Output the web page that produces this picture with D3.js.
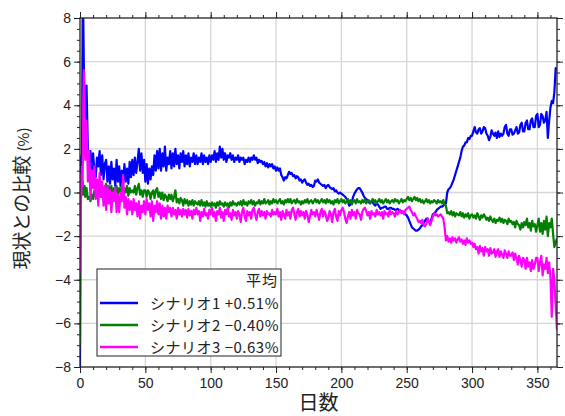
<!DOCTYPE html>
<html><head><meta charset="utf-8">
<script src="https://cdn.jsdelivr.net/npm/d3@7"></script>
<style>body{margin:0;background:#fff} svg{display:block}</style>
</head><body>
<svg id="c" width="565" height="416"></svg>
<script>
// ---- data ----
const startDays = [0,0.4,1,1.5,2,2.5,3,3.5,4,5,6,7,8,9];
const days = startDays.concat(d3.range(10, 366));

const seriesNames = ["シナリオ1", "シナリオ2", "シナリオ3"];
const seriesMeans = ["+0.51%", "\u22120.40%", "\u22120.63%"];
const legendTitle = "平均";

const scenario1 = [
 -8, 0.8, 1.7, 0.9, 7.9, 8.0, 5.5, 4.0, 2.3, 4.9, 2.0, 1.0, 1.9, 0.9,
 1.8, 1.0, 0.7, 1.6, 1.2, 1.9, 0.8, 1.7, 0.6, 1.3,
 1.5, 0.5, 1.2, 0.4, 1.4, 0.6, 1.1, 0.3, 1.5, 0.5,
 1.2, 0.3, 1.0, 0.4, 1.3, 0.5, 1.1, 0.4, 1.4, 0.7,
 1.5, 0.8, 1.6, 0.9, 1.4, 2.0, 1.0, 1.8, 0.9, 1.5,
 0.5, 1.3, 0.4, 1.1, 0.6, 1.2, 0.8, 1.7, 1.0, 1.9,
 1.1, 2.0, 1.0, 1.8, 1.2, 2.1, 1.0, 1.6, 1.3, 1.9,
 1.1, 1.8, 1.2, 2.0, 1.3, 1.7, 1.1, 1.8, 1.4, 1.9,
 1.2, 1.7, 1.3, 1.8, 1.2, 1.6, 1.4, 1.8, 1.3, 1.7,
 1.3, 1.6, 1.4, 1.8, 1.3, 1.7, 1.4, 1.6, 1.3, 1.7,
 1.4, 1.7, 1.5, 1.9, 1.4, 1.8, 1.5, 2.1, 1.6, 2.0,
 1.5, 1.8, 1.4, 1.7, 1.6, 1.8, 1.5, 1.7, 1.4, 1.6,
 1.5, 1.7, 1.4, 1.6, 1.5, 1.6, 1.3, 1.5, 1.4, 1.6,
 1.4, 1.6, 1.5, 1.7, 1.5, 1.6, 1.35, 1.5, 1.4, 1.45,
 1.3, 1.4, 1.2, 1.35, 1.15, 1.3, 1.2, 1.3, 1.1, 1.2,
 1.0, 1.15, 1.0, 1.1, 0.8, 0.7, 0.55, 0.7, 0.65, 0.8,
 0.95, 0.85, 0.9, 0.75, 0.8, 0.65, 0.75, 0.7, 0.55, 0.6,
 0.45, 0.55, 0.6, 0.45, 0.35, 0.4, 0.3, 0.35, 0.25, 0.3,
 0.55, 0.5, 0.6, 0.45, 0.4, 0.35, 0.3, 0.35, 0.2, 0.3,
 0.35, 0.25, 0.2, 0.15, 0.2, 0.05, 0.1, 0.0, -0.05, 0.0,
 -0.05, -0.1, -0.15, -0.2, -0.3, -0.4, -0.6, -0.55, -0.45, -0.2,
 -0.05, 0.05, 0.15, 0.2, 0.2, 0.1, 0.0, -0.15, -0.25, -0.3,
 -0.35, -0.45, -0.5, -0.4, -0.45, -0.55, -0.6, -0.5, -0.55, -0.65,
 -0.75, -0.7, -0.7, -0.65, -0.65, -0.75, -0.75, -0.7, -0.7, -0.75,
 -0.75, -0.8, -0.8, -0.75, -0.8, -0.85, -0.85, -0.9, -0.95, -1.0,
 -1.05, -1.15, -1.3, -1.45, -1.6, -1.65, -1.7, -1.75, -1.75, -1.7,
 -1.65, -1.55, -1.5, -1.4, -1.3, -1.2, -1.2, -1.35, -1.4, -1.2,
 -1.0, -0.95, -0.9, -0.8, -0.75, -0.7, -0.65, -0.65, -0.6, -0.55,
 -0.5, 0.0, 0.15, 0.2, 0.3, 0.45, 0.6, 0.8, 1.0, 1.2,
 1.4, 1.6, 1.9, 2.1, 2.15, 2.3, 2.3, 2.5, 2.45, 2.6,
 2.6, 2.8, 3.0, 2.75, 2.7, 2.9, 2.95, 2.7, 2.8, 3.0,
 2.95, 2.7, 2.6, 2.4, 2.55, 2.85, 2.7, 2.6, 2.75, 2.5,
 2.8, 2.55, 2.7, 2.6, 2.7, 3.0, 3.1, 2.7, 2.6, 2.9,
 2.9, 2.65, 2.7, 2.85, 3.0, 2.7, 2.75, 3.1, 3.2, 2.8,
 2.8, 3.2, 3.3, 2.9, 2.9, 3.3, 3.4, 3.0, 3.0, 3.5,
 3.6, 3.0, 3.1, 3.6, 3.5, 3.2, 3.3, 3.7, 2.5, 3.3,
 3.9, 4.2, 4.1, 4.6, 5.7, 5.6
];

const scenario2 = [
 -7, -0.2, 0.3, -0.1, 0.5, 0.2, -0.1, 0.3, -0.2, 0.2, -0.3, -0.2, -0.4, -0.1,
 -0.3, 0.1, -0.2, 0.2, -0.1, 0.3, -0.2, 0.2, -0.1, 0.1,
 0.4, 0.0, 0.3, -0.1, 0.3, -0.1, 0.2, 0.0, 0.3, -0.1,
 0.2, 0.0, 0.3, -0.1, 0.2, 0.0, 0.3, -0.15, 0.2, 0.0,
 0.1, 0.0, 0.3, -0.1, 0.2, 0.4, -0.1, 0.1, -0.2, 0.1,
 0.1, -0.2, 0.1, 0.0, -0.3, 0.0, 0.1, -0.25, 0.1, 0.2,
 -0.2, 0.0, -0.3, 0.0, -0.35, -0.1, -0.2, -0.4, -0.1, -0.3,
 -0.1, -0.4, -0.2, 0.1, -0.45, -0.3, -0.5, -0.25, -0.35, -0.6,
 -0.3, -0.5, -0.35, -0.6, -0.4, -0.55, -0.35, -0.6, -0.4, -0.5,
 -0.55, -0.4, -0.6, -0.35, -0.6, -0.45, -0.65, -0.4, -0.6, -0.5,
 -0.65, -0.45, -0.6, -0.5, -0.7, -0.45, -0.6, -0.4, -0.55, -0.5,
 -0.65, -0.45, -0.6, -0.5, -0.7, -0.45, -0.6, -0.4, -0.55, -0.5,
 -0.6, -0.45, -0.55, -0.4, -0.6, -0.35, -0.55, -0.45, -0.6, -0.4,
 -0.5, -0.35, -0.55, -0.4, -0.6, -0.45, -0.5, -0.35, -0.55, -0.4,
 -0.5, -0.3, -0.5, -0.45, -0.35, -0.55, -0.4, -0.5, -0.3, -0.45,
 -0.35, -0.5, -0.4, -0.3, -0.5, -0.4, -0.55, -0.35, -0.45, -0.3,
 -0.45, -0.3, -0.5, -0.4, -0.35, -0.5, -0.3, -0.45, -0.4, -0.55,
 -0.4, -0.5, -0.35, -0.45, -0.3, -0.5, -0.4, -0.35, -0.5, -0.4,
 -0.3, -0.45, -0.35, -0.5, -0.4, -0.3, -0.45, -0.35, -0.5, -0.3,
 -0.45, -0.35, -0.5, -0.4, -0.55, -0.35, -0.45, -0.3, -0.5, -0.4,
 -0.3, -0.45, -0.35, -0.5, -0.4, -0.3, -0.45, -0.35, -0.55, -0.4,
 -0.35, -0.5, -0.3, -0.45, -0.4, -0.5, -0.35, -0.45, -0.3, -0.5,
 -0.4, -0.35, -0.5, -0.4, -0.3, -0.45, -0.35, -0.5, -0.4, -0.3,
 -0.45, -0.35, -0.5, -0.4, -0.3, -0.45, -0.35, -0.5, -0.4, -0.35,
 -0.45, -0.3, -0.4, -0.35, -0.5, -0.4, -0.3, -0.45, -0.35, -0.4,
 -0.3, -0.2, -0.35, -0.25, -0.4, -0.3, -0.2, -0.35, -0.25, -0.4,
 -0.3, -0.45, -0.35, -0.5, -0.4, -0.3, -0.45, -0.35, -0.5, -0.4,
 -0.45, -0.35, -0.4, -0.5, -0.35, -0.45, -0.4, -0.5, -0.35, -0.55,
 -0.6, -0.95, -0.9, -1.0, -0.85, -1.05, -0.9, -1.1, -0.95, -1.0,
 -1.05, -0.9, -1.1, -0.95, -1.15, -1.0, -1.1, -0.95, -1.2, -1.05,
 -1.0, -1.15, -1.05, -1.2, -0.95, -1.1, -1.25, -1.05, -1.15, -1.0,
 -1.1, -1.25, -1.15, -1.3, -1.1, -1.25, -1.35, -1.2, -1.4, -1.25,
 -1.3, -1.15, -1.35, -1.2, -1.4, -1.25, -1.3, -1.45, -1.2, -1.35,
 -1.3, -1.45, -1.35, -1.6, -1.3, -1.45, -1.5, -1.7, -1.4, -1.6,
 -1.35, -1.5, -1.2, -1.6, -1.4, -1.75, -1.3, -1.55, -1.45, -1.8,
 -1.5, -1.2, -1.8, -1.4, -1.9, -1.3, -1.7, -1.1, -2.0, -1.4,
 -1.6, -1.2, -1.9, -2.5, -2.3, -2.1
];

const scenario3 = [
 -3.7, 0.8, -0.2, 1.2, 0.3, 4.0, 5.6, 3.0, 1.5, 3.3, 0.5, 1.9, -0.3, 1.0,
 0.2, 1.2, -0.3, 0.6, -0.6, 0.9, -0.2, 0.5, -0.6, 0.3,
 -0.8, 0.3, -0.5, 0.1, -0.9, 0.0, -0.4, 0.2, -0.9, -0.1,
 -0.9, 0.0, -0.4, 0.8, -0.7, -0.2, -1.0, -0.3, -0.8, -0.4,
 -1.0, -0.3, -0.8, -0.5, -1.1, -0.4, -1.2, -0.6, -0.9, -0.4,
 -1.0, -0.3, -0.8, -0.5, -1.1, -0.4, -1.3, -0.6, -0.9, -0.4,
 -1.0, -0.5, -1.2, -0.6, -1.1, -0.7, -1.2, -0.6, -0.9, -0.7,
 -1.1, -0.7, -1.0, -0.8, -1.2, -0.7, -1.0, -0.8, -1.1, -0.75,
 -1.0, -0.8, -1.15, -0.75, -1.05, -0.85, -1.2, -0.8, -1.0, -0.7,
 -1.0, -0.85, -1.3, -0.9, -1.1, -0.75, -1.05, -0.95, -1.2, -0.8,
 -1.0, -0.7, -1.1, -0.9, -1.3, -0.85, -1.0, -0.7, -1.15, -0.9,
 -1.3, -0.8, -1.0, -0.7, -1.1, -0.95, -1.25, -0.8, -1.05, -0.9,
 -1.2, -0.85, -1.0, -1.35, -0.9, -0.7, -1.1, -1.3, -0.85, -1.05,
 -0.9, -1.2, -0.8, -0.7, -1.0, -1.25, -0.9, -0.75, -1.1, -0.85,
 -1.05, -0.9, -1.2, -0.85, -1.0, -0.95, -1.1, -0.8, -1.0, -0.9,
 -1.0, -0.75, -1.1, -0.9, -1.25, -0.85, -1.0, -1.2, -0.8, -1.05,
 -0.9, -1.2, -0.8, -0.7, -1.0, -1.25, -0.9, -0.75, -1.1, -0.85,
 -1.05, -0.9, -1.2, -0.85, -1.0, -1.35, -1.1, -0.8, -1.0, -0.9,
 -1.1, -0.8, -1.0, -1.25, -0.9, -0.75, -1.1, -0.85, -1.0, -1.3,
 -1.2, -0.85, -1.0, -1.35, -0.9, -0.75, -1.1, -1.3, -0.85, -1.05,
 -0.8, -0.7, -0.9, -1.2, -1.4, -1.1, -0.9, -1.2, -0.8, -1.05,
 -0.9, -1.2, -0.8, -0.95, -1.0, -1.25, -0.9, -0.75, -0.7, -0.85,
 -1.05, -0.9, -1.2, -0.85, -1.0, -0.95, -1.1, -0.8, -1.0, -0.9,
 -1.05, -0.9, -1.2, -0.85, -1.0, -0.95, -1.1, -0.8, -1.0, -0.9,
 -0.95, -1.1, -0.85, -1.0, -0.9, -0.8, -0.95, -0.85, -1.0, -0.8,
 -0.75, -0.7, -0.65, -0.8, -0.9, -1.05, -0.95, -1.1, -1.2, -1.35,
 -1.3, -1.4, -1.25, -1.5, -1.55, -1.45, -1.2, -1.35, -1.5, -1.3,
 -1.1, -0.95, -1.05, -1.0, -1.1, -1.05, -1.0, -1.1, -1.2, -1.6,
 -2.2, -2.0, -2.25, -2.1, -2.3, -2.05, -2.2, -2.1, -2.3, -2.15,
 -2.05, -2.25, -2.15, -2.35, -2.2, -2.4, -2.1, -2.3, -2.2, -2.35,
 -2.3, -2.5, -2.35, -2.6, -2.5, -2.8, -2.45, -2.7, -2.55, -2.9,
 -2.5, -2.7, -2.6, -2.9, -2.55, -2.8, -2.75, -2.6, -2.95, -2.7,
 -2.6, -2.95, -2.7, -2.85, -3.0, -2.65, -2.8, -3.0, -2.7, -2.9,
 -2.9, -2.75, -3.1, -2.8, -3.0, -3.3, -2.9, -3.1, -3.4, -3.0,
 -3.1, -3.5, -3.0, -3.4, -3.2, -3.6, -3.1, -3.5, -3.3, -3.0,
 -3.0, -3.6, -3.2, -2.9, -3.8, -3.3, -3.5, -3.0, -3.7, -3.2,
 -3.9, -5.7, -3.5, -4.0, -5.2, -6.3
];

const seriesValues = [scenario1, scenario2, scenario3];
const seriesColors = ["#0000ff", "#008000", "#ff00ff"];

const xMajor = d3.range(0, 351, 50);
const xMinor = d3.range(0, 366, 10);
const yMajor = d3.range(-8, 9, 2);
const yMinor = d3.range(-8, 8.01, 0.5);

// ---- layout ----
const L = 80, R = 557, T = 18, B = 367;
const svg = d3.select("#c");
const x = d3.scaleLinear().domain([0, 365]).range([L, R]);
const y = d3.scaleLinear().domain([-8, 8]).range([B, T]);
const numFont = "'Liberation Sans', Arial, sans-serif";
const jpFont = "'Noto Sans CJK JP', 'Noto Sans', sans-serif";

svg.append("rect").attr("width", 565).attr("height", 416).attr("fill", "#fff");

// grid
const grid = svg.append("g").attr("stroke", "#d6d6d6").attr("stroke-width", 1.3);
grid.selectAll(".gx").data(xMajor.filter(d => d > 0)).join("line")
  .attr("x1", d => x(d)).attr("x2", d => x(d)).attr("y1", T).attr("y2", B);
grid.selectAll(".gy").data(yMajor.filter(d => d > -8 && d < 8)).join("line")
  .attr("y1", d => y(d)).attr("y2", d => y(d)).attr("x1", L).attr("x2", R);

// lines
svg.append("clipPath").attr("id", "clip").append("rect")
  .attr("x", L).attr("y", T).attr("width", R - L).attr("height", B - T);
const line = d3.line().x((d, i) => x(days[i])).y(d => y(d));
const lg = svg.append("g").attr("clip-path", "url(#clip)");
seriesValues.forEach((vals, k) => {
  lg.append("path").datum(vals).attr("d", line)
    .attr("fill", "none").attr("stroke", seriesColors[k])
    .attr("stroke-width", 2.2).attr("stroke-linejoin", "round");
});

// axes
function styleAxis(g) {
  g.select(".domain").remove();
  g.selectAll("line").attr("stroke", "#222").attr("stroke-width", 1);
  g.selectAll("text").attr("font-family", numFont).attr("font-size", 14).attr("fill", "#222");
}
const fmt = d => d3.format("d")(d).replace("-", "\u2212");
svg.append("g").attr("transform", `translate(0,${B})`)
  .call(d3.axisBottom(x).tickValues(xMinor).tickSize(3).tickFormat("")).call(styleAxis);
svg.append("g").attr("transform", `translate(0,${B})`)
  .call(d3.axisBottom(x).tickValues(xMajor).tickSize(6).tickPadding(5).tickFormat(d => d)).call(styleAxis);
svg.append("g").attr("transform", `translate(0,${T})`)
  .call(d3.axisTop(x).tickValues(xMinor).tickSize(3).tickFormat("")).call(styleAxis);
svg.append("g").attr("transform", `translate(0,${T})`)
  .call(d3.axisTop(x).tickValues(xMajor).tickSize(6).tickFormat("")).call(styleAxis);
svg.append("g").attr("transform", `translate(${L},0)`)
  .call(d3.axisLeft(y).tickValues(yMinor).tickSize(3).tickFormat("")).call(styleAxis);
svg.append("g").attr("transform", `translate(${L},0)`)
  .call(d3.axisLeft(y).tickValues(yMajor).tickSize(6).tickPadding(3).tickFormat(fmt)).call(styleAxis);
svg.append("g").attr("transform", `translate(${R},0)`)
  .call(d3.axisRight(y).tickValues(yMinor).tickSize(3).tickFormat("")).call(styleAxis);
svg.append("g").attr("transform", `translate(${R},0)`)
  .call(d3.axisRight(y).tickValues(yMajor).tickSize(6).tickFormat("")).call(styleAxis);

// frame
svg.append("rect").attr("x", L).attr("y", T).attr("width", R - L).attr("height", B - T)
  .attr("fill", "none").attr("stroke", "#222").attr("stroke-width", 1.3);

// axis titles
svg.append("text").attr("x", (L + R) / 2).attr("y", 410)
  .attr("text-anchor", "middle").attr("font-family", jpFont).attr("font-size", 20)
  .attr("fill", "#222").text("日数");
const yt = svg.append("text").attr("transform", `translate(29,${(T + B) / 2 + 6}) rotate(-90)`)
  .attr("text-anchor", "middle").attr("font-family", jpFont).attr("font-size", 19).attr("fill", "#222");
yt.append("tspan").text("現状との比較 ");
yt.append("tspan").attr("font-size", 15).text("(%)");

// legend
const lgX = 97, lgY = 269, lgW = 184, lgH = 87;
const leg = svg.append("g");
leg.append("rect").attr("x", lgX).attr("y", lgY).attr("width", lgW).attr("height", lgH)
  .attr("fill", "#fff").attr("stroke", "#222").attr("stroke-width", 1);
leg.append("text").attr("x", lgX + lgW - 3).attr("y", lgY + 17).attr("text-anchor", "end")
  .attr("font-family", jpFont).attr("font-size", 15).attr("letter-spacing", 1).attr("fill", "#222").text(legendTitle);
seriesNames.forEach((name, k) => {
  const yy = lgY + 34 + k * 22;
  leg.append("line").attr("x1", lgX + 3).attr("x2", lgX + 41).attr("y1", yy).attr("y2", yy)
    .attr("stroke", seriesColors[k]).attr("stroke-width", 2.5);
  leg.append("text").attr("x", lgX + lgW - 2).attr("y", yy + 5.5).attr("text-anchor", "end")
    .attr("font-family", jpFont).attr("font-size", 15).attr("letter-spacing", 0.5).attr("fill", "#222")
    .text(name + " " + seriesMeans[k]);
});
</script>
</body></html>
